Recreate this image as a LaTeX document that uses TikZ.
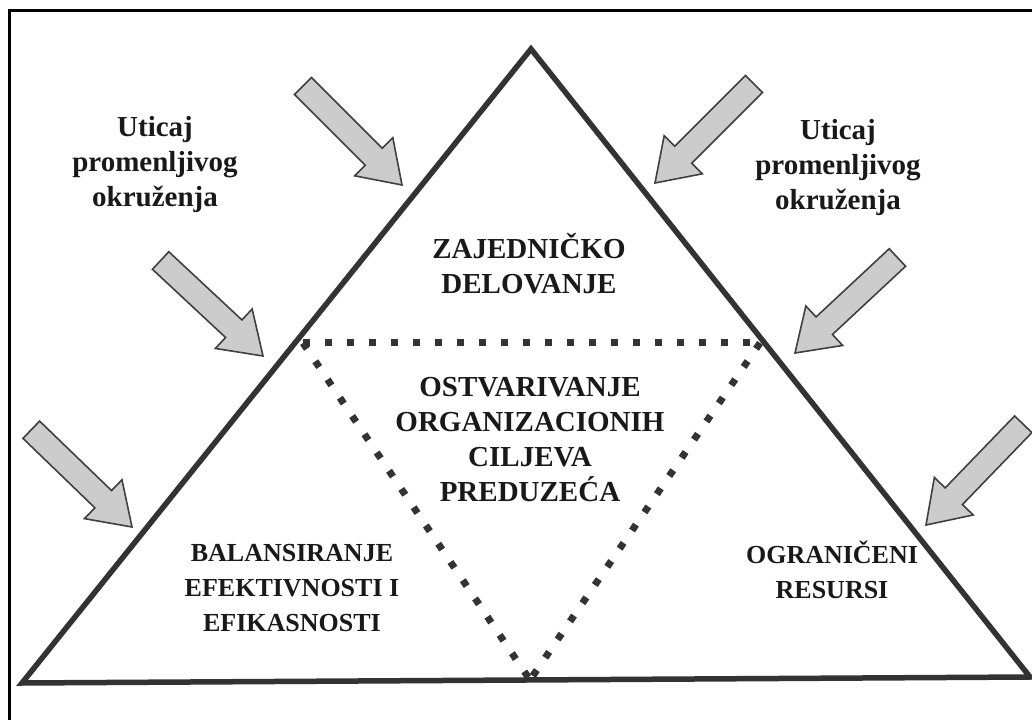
\documentclass[tikz,border=0pt]{standalone}
\usepackage{fontspec}
\setmainfont{Liberation Serif}
\begin{document}
\begin{tikzpicture}[x=1pt,y=1pt,
  lbl/.style={font=\fontsize{29}{35}\selectfont\bfseries, align=center, text=black!90, inner sep=0pt},
  lblsmall/.style={lbl, font=\fontsize{26}{35}\selectfont\bfseries},
  edge/.style={draw=black!80, line width=5.5pt, line join=miter},
  dots/.style={draw=black!80, line width=7pt, line cap=butt, dash pattern=on 7pt off 15pt},
  frame/.style={draw=black, line width=3pt},
  pics/blockarrow/.style={code={
    \draw[draw=black!75, line width=1.6pt, fill=black!20, line join=miter]
      (0,0) -- (-40,27) -- (-40,12) -- (-140,12) -- (-140,-12) -- (-40,-12) -- (-40,-27) -- cycle;
  }}]
\useasboundingbox (0,0) rectangle (1032,720);
\fill[white] (0,0) rectangle (1032,720);

% frame
\draw[frame] (9,0) -- (9,709) -- (1032,709);

% outer triangle
\coordinate (A) at (531,671);
\coordinate (B) at (22,37);
\coordinate (C) at (1030,43);
\draw[edge] (B) -- (A) -- (C) -- cycle;

% inner dotted triangle
\coordinate (P) at (303,377);
\coordinate (Q) at (760,377);
\coordinate (R) at (530,40);
\draw[dots] (P) -- (Q);
\draw[dots] (P) -- (R);
\draw[dots] (Q) -- (R);

% environment arrows
\pic[rotate=-45]  at (402,535) {blockarrow};
\pic[rotate=-43]  at (263,364) {blockarrow};
\pic[rotate=-44]  at (132,193) {blockarrow};
\pic[rotate=-135] at (655,537) {blockarrow};
\pic[rotate=-137] at (795,367) {blockarrow};
\pic[rotate=-134] at (926,195) {blockarrow};

% labels
\node[lbl] (envL) at (155,555) {Uticaj\\promenljivog\\okruženja};
\node[lbl] (envR) at (838,552) {Uticaj\\promenljivog\\okruženja};
\node[lbl] (top)  at (529,456) {ZAJEDNIČKO\\DELOVANJE};
\node[lbl] (mid)  at (530,280) {OSTVARIVANJE\\ORGANIZACIONIH\\CILJEVA\\PREDUZEĆA};
\node[lblsmall] (bl) at (292,132) {BALANSIRANJE\\EFEKTIVNOSTI I\\EFIKASNOSTI};
\node[lblsmall] (br) at (832,150) {OGRANIČENI\\RESURSI};
\end{tikzpicture}
\end{document}
